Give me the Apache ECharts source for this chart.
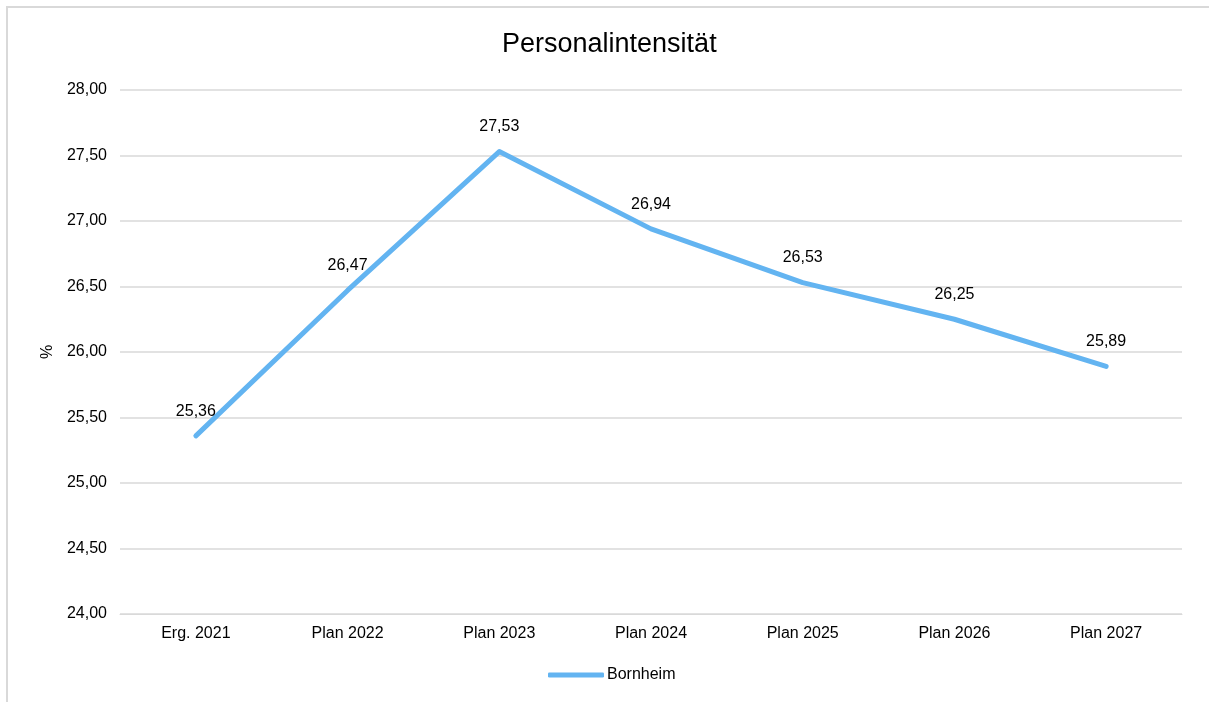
<!DOCTYPE html>
<html>
<head>
<meta charset="utf-8">
<script src="https://cdn.jsdelivr.net/npm/echarts@6/dist/echarts.min.js"></script>
<style>
    html, body { margin: 0; padding: 0; background: #fff; overflow: hidden; }
    .frame { position: absolute; left: 6px; top: 6px; width: 1220px; height: 720px; border: 2px solid #d9d9d9; box-sizing: border-box; }
    #chart { position: absolute; left: 0; top: 0; width: 1209px; height: 702px; }
</style>
</head>
<body>
<div class="frame"></div>
<div id="chart"></div>
<script>
    var categories = ['Erg. 2021', 'Plan 2022', 'Plan 2023', 'Plan 2024', 'Plan 2025', 'Plan 2026', 'Plan 2027'];
    var bornheim = [25.36, 26.47, 27.53, 26.94, 26.53, 26.25, 25.89];

    var fmt = function (v) { return v.toFixed(2).replace('.', ','); };

    var myChart = echarts.init(document.getElementById('chart'));
    var option = {
        textStyle: { fontFamily: 'Liberation Sans, Arial, sans-serif' },
        title: {
            text: 'Personalintensität',
            left: 497,
            top: 26,
            textStyle: { fontSize: 27, fontWeight: 'normal', color: '#000' }
        },
        legend: {
            bottom: 14,
            left: 543,
            itemWidth: 56,
            itemHeight: 5,
            itemGap: 10,
            icon: 'roundRect',
            textStyle: { fontSize: 16, color: '#000', padding: [0, 0, 0, -2] },
            data: ['Bornheim']
        },
        grid: { left: 120, right: 27, top: 90, bottom: 88 },
        xAxis: {
            type: 'category',
            data: categories,
            boundaryGap: true,
            axisLine: { lineStyle: { color: '#d9d9d9' } },
            axisTick: { show: false },
            axisLabel: { color: '#000', fontSize: 16, margin: 12 }
        },
        yAxis: {
            type: 'value',
            min: 24,
            max: 28,
            interval: 0.5,
            name: '%',
            nameLocation: 'middle',
            nameGap: 61,
            nameTextStyle: { color: '#000', fontSize: 16 },
            axisLine: { show: false },
            axisTick: { show: false },
            splitLine: { lineStyle: { color: '#d9d9d9', width: 1.5 } },
            axisLabel: { color: '#000', fontSize: 16, margin: 13, formatter: function (v) { return fmt(v); } }
        },
        series: [{
            name: 'Bornheim',
            type: 'line',
            data: bornheim,
            symbol: 'circle',
            symbolSize: 1,
            showSymbol: true,
            lineStyle: { width: 5, color: '#63b4f1', cap: 'round', join: 'round' },
            itemStyle: { color: '#63b4f1' },
            label: {
                show: true,
                position: 'top',
                distance: 16,
                color: '#000',
                fontSize: 16,
                formatter: function (p) { return fmt(p.value); }
            }
        }]
    };
    myChart.setOption(option);
</script>
</body>
</html>
